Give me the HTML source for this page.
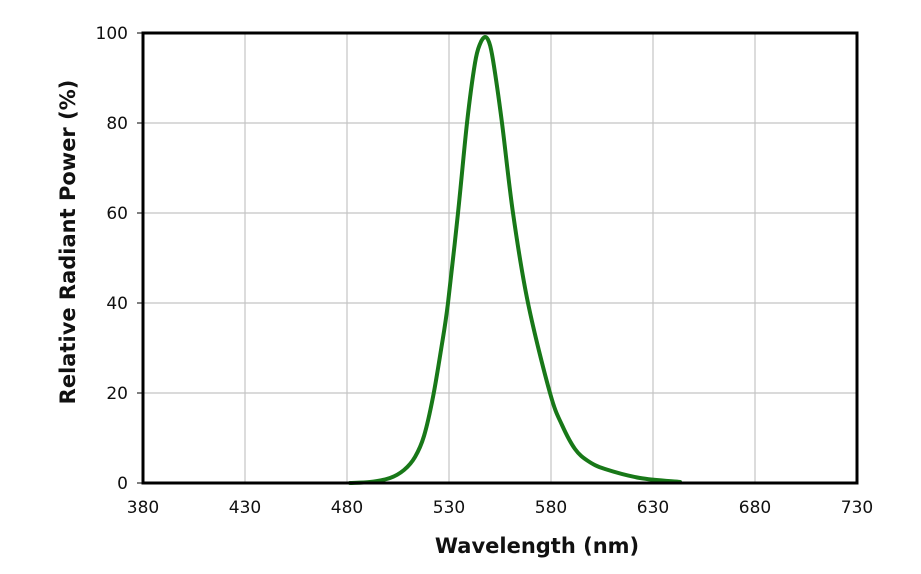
<!DOCTYPE html>
<html><head><meta charset="utf-8"><style>
html,body{margin:0;padding:0;background:#fff;}
svg{display:block;}
text{font-family:"DejaVu Sans","Liberation Sans",sans-serif;fill:#111;}
</style></head><body>
<svg width="921" height="574" viewBox="0 0 921 574" xmlns="http://www.w3.org/2000/svg">
<rect width="921" height="574" fill="#fff"/>
<g stroke="#c4c4c4" stroke-width="1.2">
<line x1="245" y1="33" x2="245" y2="483"/>
<line x1="347" y1="33" x2="347" y2="483"/>
<line x1="449" y1="33" x2="449" y2="483"/>
<line x1="551" y1="33" x2="551" y2="483"/>
<line x1="653" y1="33" x2="653" y2="483"/>
<line x1="755" y1="33" x2="755" y2="483"/>
<line x1="143" y1="123" x2="857" y2="123"/>
<line x1="143" y1="213" x2="857" y2="213"/>
<line x1="143" y1="303" x2="857" y2="303"/>
<line x1="143" y1="393" x2="857" y2="393"/>
</g>
<g stroke="#000" stroke-width="1">
<line x1="137" y1="33" x2="143" y2="33"/>
<line x1="137" y1="123" x2="143" y2="123"/>
<line x1="137" y1="213" x2="143" y2="213"/>
<line x1="137" y1="303" x2="143" y2="303"/>
<line x1="137" y1="393" x2="143" y2="393"/>
<line x1="137" y1="483" x2="143" y2="483"/>
</g>
<path id="curve" d="" fill="none" stroke="#187818" stroke-width="4" stroke-linecap="round" stroke-linejoin="round"/>
<rect x="143" y="33" width="714" height="450" fill="none" stroke="#000" stroke-width="3"/>
<g font-size="17" text-anchor="end">
<text x="128" y="39">100</text>
<text x="128" y="129">80</text>
<text x="128" y="219">60</text>
<text x="128" y="309">40</text>
<text x="128" y="399">20</text>
<text x="128" y="489">0</text>
</g>
<g font-size="17" text-anchor="middle">
<text x="143" y="513">380</text>
<text x="245" y="513">430</text>
<text x="347" y="513">480</text>
<text x="449" y="513">530</text>
<text x="551" y="513">580</text>
<text x="653" y="513">630</text>
<text x="755" y="513">680</text>
<text x="857" y="513">730</text>
</g>
<text x="537" y="553" font-size="21" font-weight="bold" text-anchor="middle">Wavelength (nm)</text>
<text transform="translate(75,242) rotate(-90)" font-size="21" font-weight="bold" text-anchor="middle">Relative Radiant Power (%)</text>
</svg>
<script>
var p=[[350,483],[370,482],[390,478],[404,470],[415,457],[424,436],[433,397],[441,350],[448,303],[458,213],[467,123],[475,63],[480,44],[485,37],[489,42],[493,60],[502,123],[513,213],[528,303],[550,393],[562,425],[575,449],[588,461],[605,469],[640,478],[680,482]];
var d="M"+p[0][0]+","+p[0][1];
for(var i=0;i<p.length-1;i++){
var p0=p[Math.max(0,i-1)],p1=p[i],p2=p[i+1],p3=p[Math.min(p.length-1,i+2)];
var c1x=p1[0]+(p2[0]-p0[0])/6,c1y=p1[1]+(p2[1]-p0[1])/6;
var c2x=p2[0]-(p3[0]-p1[0])/6,c2y=p2[1]-(p3[1]-p1[1])/6;
d+=" C"+c1x.toFixed(1)+","+c1y.toFixed(1)+" "+c2x.toFixed(1)+","+c2y.toFixed(1)+" "+p2[0]+","+p2[1];
}
document.getElementById("curve").setAttribute("d",d);
</script>
</body></html>
